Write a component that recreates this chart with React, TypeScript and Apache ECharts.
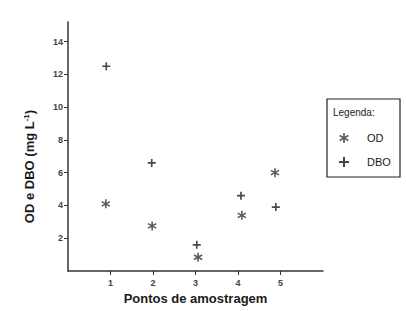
import React, { useEffect, useRef } from "react";
import * as echarts from "echarts";

const seriesNames = ["OD", "DBO"];
const odPoints: number[][] = [
  [0.89, 4.1],
  [1.98, 2.75],
  [3.06, 0.84],
  [4.09, 3.4],
  [4.87, 6.0],
];
const dboPoints: number[][] = [
  [0.9, 12.5],
  [1.97, 6.6],
  [3.03, 1.6],
  [4.07, 4.6],
  [4.89, 3.9],
];
const xTicks = [1, 2, 3, 4, 5];
const yTicks = [2, 4, 6, 8, 10, 12, 14];

function barsPath(angles: number[], r: number, w: number): string {
  let d = "";
  for (const deg of angles) {
    const t = (deg * Math.PI) / 180;
    const dx = Math.cos(t), dy = Math.sin(t);
    const nx = -dy, ny = dx;
    const pts = [
      [r * dx + w * nx, r * dy + w * ny],
      [r * dx - w * nx, r * dy - w * ny],
      [-r * dx - w * nx, -r * dy - w * ny],
      [-r * dx + w * nx, -r * dy + w * ny],
    ];
    d +=
      "M" +
      pts.map((p) => p[0].toFixed(3) + "," + p[1].toFixed(3)).join("L") +
      "Z";
  }
  return d;
}

const asteriskPath = "path://" + barsPath([90, 30, 150], 5, 0.85);
const plusPath = "path://" + barsPath([0, 90], 5, 1.05);

export default function App() {
  const ref = useRef<HTMLDivElement>(null);
  useEffect(() => {
    if (!ref.current) return;
    const chart = echarts.init(ref.current, undefined, { renderer: "svg" });
    const font = "Liberation Sans, Arial, sans-serif";
    chart.setOption({
      animation: false,
      backgroundColor: "#ffffff",
      grid: { left: 68, right: 83, top: 22, bottom: 40 },
      xAxis: {
        type: "value",
        min: 0,
        max: 6,
        name: "Pontos de amostragem",
        nameLocation: "middle",
        nameGap: 21,
        nameTextStyle: { fontFamily: font, fontSize: 13, fontWeight: "bold", color: "#1a1a1a" },
        axisLine: { lineStyle: { color: "#333", width: 1.5 } },
        axisTick: { show: true, length: 4, customValues: xTicks, lineStyle: { color: "#333" } },
        axisLabel: { customValues: xTicks, fontFamily: font, fontSize: 9, fontWeight: "bold", color: "#444", margin: 7 },
        splitLine: { show: false },
      },
      yAxis: {
        type: "value",
        min: 0,
        max: 15.2,
        name: "{a|OD e DBO (mg L}{s|-1}{a|)}",
        nameLocation: "middle",
        nameGap: 32,
        nameTextStyle: {
          padding: [0, 40, 0, 0],
          rich: {
            a: { fontFamily: font, fontSize: 13, fontWeight: "bold", color: "#1a1a1a" },
            s: { fontFamily: font, fontSize: 8, fontWeight: "bold", color: "#1a1a1a", verticalAlign: "top", padding: [0, 0, 6, 0] },
          },
        },
        axisLine: { show: true, lineStyle: { color: "#333", width: 1.5 } },
        axisTick: { show: true, length: 4, customValues: yTicks, lineStyle: { color: "#333" } },
        axisLabel: { customValues: yTicks, fontFamily: font, fontSize: 9, fontWeight: "bold", color: "#444", margin: 5 },
        splitLine: { show: false },
      },
      legend: {
        orient: "vertical",
        left: 334,
        top: 126,
        itemWidth: 10,
        itemHeight: 10,
        itemGap: 10,
        data: seriesNames,
        textStyle: { fontFamily: font, fontSize: 11, color: "#1a1a1a", padding: [0, 0, 0, 13], lineHeight: 14 },
      },
      graphic: [
        {
          type: "rect",
          shape: { x: 327, y: 99, width: 73, height: 78 },
          style: { fill: "none", stroke: "#222", lineWidth: 1.2 },
          z: 10,
        },
        {
          type: "text",
          x: 333,
          y: 112,
          style: { text: "Legenda:", fontFamily: font, fontSize: 10, fill: "#222", verticalAlign: "middle" },
          z: 10,
        },
      ],
      series: [
        {
          name: seriesNames[0],
          type: "scatter",
          symbol: asteriskPath,
          symbolSize: 9,
          itemStyle: { color: "#333" },
          data: odPoints,
        },
        {
          name: seriesNames[1],
          type: "scatter",
          symbol: plusPath,
          symbolSize: 8,
          itemStyle: { color: "#1a1a1a" },
          data: dboPoints,
        },
      ],
    });
    return () => chart.dispose();
  }, []);
  return (
    <div
      ref={ref}
      style={{ position: "absolute", left: 0, top: 0, width: 406, height: 311 }}
    />
  );
}
